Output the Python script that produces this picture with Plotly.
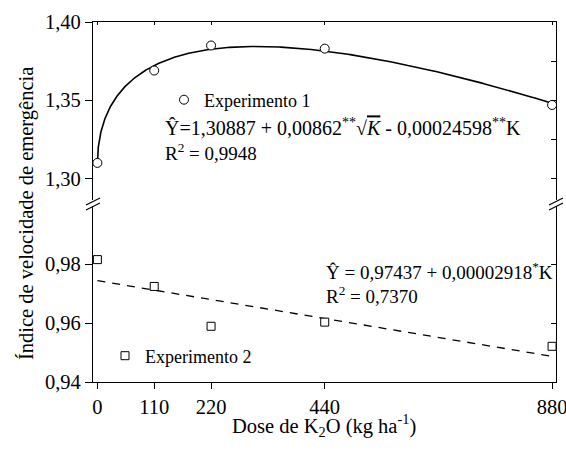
import numpy as np
import plotly.graph_objects as go

# ---- data ----
dose = [0, 110, 220, 440, 880]
exp1_ive = [1.310, 1.369, 1.385, 1.383, 1.347]
exp2_ive = [0.9815, 0.9724, 0.9589, 0.9603, 0.9521]

# regression coefficients printed on the chart
exp1_coef = [1.30887, 0.00862, -0.00024598]   # b0 + b1*sqrt(K) + b2*K
exp2_coef = [0.97437, -0.00002918]            # a0 + a1*K  (drawn line decreases)

x_ticks = [0, 110, 220, 440, 880]
x_ticklabels = ["0", "110", "220", "440", "880"]
top_ticks = [1.30, 1.35, 1.40]
top_ticklabels = ["1,30", "1,35", "1,40"]
bot_ticks = [0.94, 0.96, 0.98]
bot_ticklabels = ["0,94", "0,96", "0,98"]

# fitted curves from the printed equations
k_fit = np.linspace(0, np.sqrt(880), 300) ** 2
y1_fit = exp1_coef[0] + exp1_coef[1] * np.sqrt(k_fit) + exp1_coef[2] * k_fit
k_lin = np.array([0, 880])
y2_fit = exp2_coef[0] + exp2_coef[1] * k_lin

FONT = "Liberation Serif, Times New Roman, serif"
W, H = 566, 454
ML, MR, MT, MB = 93, 10, 22, 72
PW, PH = W - ML - MR, H - MT - MB


def px(xp):
    return (xp - ML) / PW


def py(yp):
    return (H - MB - yp) / PH


BREAK = py(203)
XR = [-8.5, 887.6]
YR_TOP = [1.2844, 1.40]
YR_BOT = [0.94, 1.0007]

fig = go.Figure()
fig.add_trace(go.Scatter(x=k_fit, y=y1_fit, mode="lines", line=dict(color="black", width=1.6),
                         xaxis="x2", yaxis="y", showlegend=False, hoverinfo="skip"))
fig.add_trace(go.Scatter(x=dose, y=exp1_ive, mode="markers", name="Experimento 1",
                         marker=dict(symbol="circle", size=9, color="white",
                                     line=dict(color="black", width=1)),
                         xaxis="x2", yaxis="y", legend="legend"))
fig.add_trace(go.Scatter(x=k_lin, y=y2_fit, mode="lines",
                         line=dict(color="black", width=1.3, dash="8px,7px"),
                         xaxis="x", yaxis="y2", showlegend=False, hoverinfo="skip"))
fig.add_trace(go.Scatter(x=dose, y=exp2_ive, mode="markers", name="Experimento 2",
                         marker=dict(symbol="square", size=8, color="white",
                                     line=dict(color="black", width=1)),
                         xaxis="x", yaxis="y2", legend="legend2"))
fig.add_trace(go.Scatter(x=[None], y=[None], xaxis="x2", yaxis="y3", showlegend=False, hoverinfo="skip"))
fig.add_trace(go.Scatter(x=[None], y=[None], xaxis="x", yaxis="y4", showlegend=False, hoverinfo="skip"))

tickfont = dict(family=FONT, size=20.5, color="black")
common = dict(showgrid=False, zeroline=False, linecolor="black", linewidth=1.3,
              tickcolor="black", automargin=False)

fig.update_layout(
    width=W, height=H, autosize=False,
    margin=dict(l=ML, r=MR, t=MT, b=MB),
    plot_bgcolor="rgba(0,0,0,0)", paper_bgcolor="white",
    font=dict(family=FONT, color="black"),
    xaxis=dict(domain=[0, 1], anchor="y2", range=XR, autorange=False,
               tickvals=x_ticks, ticktext=x_ticklabels, ticklabeloverflow="allow",
               ticks="outside", ticklen=6, tickwidth=1.2, showline=True, tickfont=tickfont,
               **common),
    xaxis2=dict(domain=[0, 1], anchor="y", side="top", range=XR, autorange=False,
                tickvals=x_ticks, ticks="inside", ticklen=3,
                showticklabels=False, showline=True, **common),
    yaxis=dict(domain=[BREAK, 1], anchor="x2", range=YR_TOP, autorange=False,
               tickvals=top_ticks, ticktext=top_ticklabels, ticks="outside", ticklen=7,
               tickwidth=1.2, showline=True, tickfont=tickfont, **common),
    yaxis2=dict(domain=[0, BREAK], anchor="x", range=YR_BOT, autorange=False,
                tickvals=bot_ticks, ticktext=bot_ticklabels, ticks="outside", ticklen=7,
                tickwidth=1.2, showline=True, tickfont=tickfont, **common),
    yaxis3=dict(overlaying="y", side="right", anchor="x2", range=YR_TOP, autorange=False,
                tickvals=[1.30, 1.325, 1.35, 1.375, 1.40], ticks="inside", ticklen=5,
                showticklabels=False, showline=True, **common),
    yaxis4=dict(overlaying="y2", side="right", anchor="x", range=YR_BOT, autorange=False,
                tickvals=bot_ticks, ticks="inside", ticklen=5,
                showticklabels=False, showline=True, **common),
    legend=dict(x=px(164), y=py(100), xanchor="left", yanchor="middle",
                bgcolor="rgba(0,0,0,0)", borderwidth=0,
                font=dict(family=FONT, size=18, color="black")),
    legend2=dict(x=px(105), y=py(356), xanchor="left", yanchor="middle",
                 bgcolor="rgba(0,0,0,0)", borderwidth=0,
                 font=dict(family=FONT, size=18, color="black")),
)

ann_font = dict(family=FONT, size=19, color="black")
annotations = [
    dict(text="Ŷ=1,30887 + 0,00862<sup>**</sup>√<span style='text-decoration:overline'><i>K</i></span> - 0,00024598<sup>**</sup>K",
         x=px(163), y=py(127), font=dict(family=FONT, size=20, color="black")),
    dict(text="R<sup>2</sup> = 0,9948", x=px(163), y=py(152), font=ann_font),
    dict(text="Ŷ = 0,97437 + 0,00002918<sup>*</sup>K", x=px(324), y=py(271), font=ann_font),
    dict(text="R<sup>2</sup> = 0,7370", x=px(324), y=py(295), font=ann_font),
]
for a in annotations:
    fig.add_annotation(xref="paper", yref="paper", xanchor="left", yanchor="middle",
                       showarrow=False, **a)

fig.add_annotation(text="Índice de velocidade de emergência", xref="paper", yref="paper",
                   x=px(26), y=py(214), textangle=-90, showarrow=False,
                   xanchor="center", yanchor="middle",
                   font=dict(family=FONT, size=20.5, color="black"))
fig.add_annotation(text="Dose de K<sub>2</sub>O (kg ha<sup>-1</sup>)", xref="paper", yref="paper",
                   x=px(324), y=py(425), showarrow=False, xanchor="center", yanchor="middle",
                   font=dict(family=FONT, size=20.5, color="black"))

for xb in (93, 556):
    fig.add_shape(type="line", xref="paper", yref="paper",
                  x0=px(xb), x1=px(xb), y0=py(206), y1=py(200),
                  line=dict(color="white", width=3))
    for dy in (0, 5):
        fig.add_shape(type="line", xref="paper", yref="paper",
                      x0=px(xb - 7), y0=py(207 + dy - 2), x1=px(xb + 7), y1=py(200 + dy - 2),
                      line=dict(color="black", width=1.2))

fig.write_html("out.html", config={"displayModeBar": False},
               post_script="document.body.style.margin='0px';")
